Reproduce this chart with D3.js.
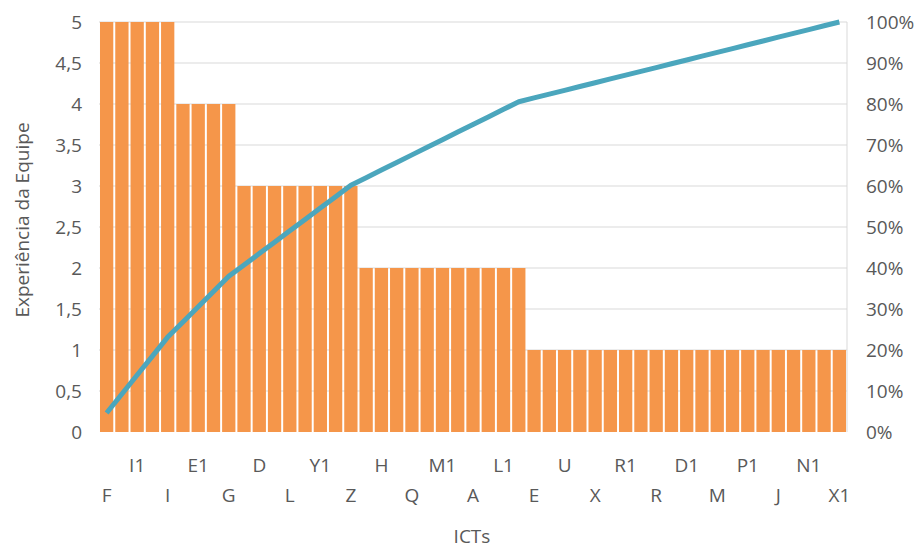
<!DOCTYPE html>
<html>
<head>
<meta charset="utf-8">
<script src="https://cdn.jsdelivr.net/npm/d3@7"></script>
<style>
  html, body { margin: 0; padding: 0; background: #ffffff; }
  svg text { font-family: "Open Sans", sans-serif; fill: #595959; }
</style>
</head>
<body>
<svg id="chart" width="923" height="551"></svg>
<script>
// Categories (ICTs). Only every second one is labelled on the axis; unlabelled names are placeholders.
const categories = [
  "F","B","I1","C","I","K","E1","N","G","O","D","P","L","S","Y1","T","Z",
  "V","H","W","Q","Y","M1","A1","A","B1","L1","C1","E","F1","U","G1","X",
  "H1","R1","J1","R","K1","D1","O1","M","Q1","P1","S1","J","T1","N1","U1","X1"
];
// Experiência da Equipe per ICT
const values = [
  5,5,5,5,5,
  4,4,4,4,
  3,3,3,3,3,3,3,3,
  2,2,2,2,2,2,2,2,2,2,2,
  1,1,1,1,1,1,1,1,1,1,1,1,1,1,1,1,1,1,1,1,1
];
const leftTicks = [0,0.5,1,1.5,2,2.5,3,3.5,4,4.5,5];
const rightTicks = [0,0.1,0.2,0.3,0.4,0.5,0.6,0.7,0.8,0.9,1];

const svg = d3.select("#chart");
const m = { left: 99, right: 847, top: 22, bottom: 432 };
const FS = 19;

const x = d3.scaleBand().domain(categories).range([m.left, m.right]).paddingInner(0.13).paddingOuter(0.065);
const y = d3.scaleLinear().domain([0, 5]).range([m.bottom, m.top]);
const y2 = d3.scaleLinear().domain([0, 1]).range([m.bottom, m.top]);

const total = d3.sum(values);
const cum = Array.from(d3.cumsum(values), v => v / total);

// gridlines
svg.append("g").selectAll("line").data(leftTicks.filter(d => d > 0)).join("line")
  .attr("x1", m.left).attr("x2", m.right)
  .attr("y1", d => y(d)).attr("y2", d => y(d))
  .attr("stroke", "#d9d9d9").attr("stroke-width", 1);
svg.append("line").attr("x1", m.right).attr("x2", m.right)
  .attr("y1", m.top).attr("y2", m.bottom).attr("stroke", "#d9d9d9");

// bars
svg.append("g").selectAll("rect").data(values).join("rect")
  .attr("x", (d, i) => x(categories[i]))
  .attr("width", x.bandwidth())
  .attr("y", d => y(d))
  .attr("height", d => y(0) - y(d))
  .attr("fill", "#F5964A");

// cumulative line
const line = d3.line()
  .x((d, i) => x(categories[i]) + x.bandwidth() / 2)
  .y(d => y2(d));
svg.append("path").datum(cum)
  .attr("d", line)
  .attr("fill", "none")
  .attr("stroke", "#4BA6BD")
  .attr("stroke-width", 5)
  .attr("stroke-linejoin", "round")
  .attr("stroke-linecap", "butt");

// left axis
const fmtL = d => String(d).replace(".", ",");
const gL = svg.append("g").attr("transform", `translate(${m.left - 17},0)`)
  .call(d3.axisLeft(y).tickValues(leftTicks).tickFormat(fmtL).tickSize(0).tickPadding(0));
gL.select(".domain").remove();
gL.selectAll("text").attr("font-size", FS).attr("dy", "0.35em").style("fill", "#595959");

// right axis
const gR = svg.append("g").attr("transform", `translate(${m.right + 19},0)`)
  .call(d3.axisRight(y2).tickValues(rightTicks).tickFormat(d3.format(".0%")).tickSize(0).tickPadding(0));
gR.select(".domain").remove();
gR.selectAll("text").attr("font-size", FS).attr("dy", "0.35em").style("fill", "#595959");

// bottom axis (staggered every second category)
const gB = svg.append("g").attr("transform", `translate(0,${m.bottom})`)
  .call(d3.axisBottom(x).tickSize(0).tickPadding(0));
gB.select(".domain").remove();
gB.selectAll(".tick").each(function(d, i) {
  const t = d3.select(this).select("text");
  t.attr("font-size", FS).style("fill", "#595959").attr("dy", "0.35em");
  if (i % 2 === 1) { t.remove(); return; }
  t.attr("y", i % 4 === 0 ? 63 : 33);
});

// titles
svg.append("text").attr("x", 472).attr("y", 536).attr("text-anchor", "middle")
  .attr("dy", "0.35em").attr("font-size", FS).text("ICTs");
svg.append("text").attr("transform", "translate(22,220) rotate(-90)")
  .attr("text-anchor", "middle").attr("dy", "0.35em").attr("font-size", FS).text("Experiência da Equipe");
</script>
</body>
</html>
